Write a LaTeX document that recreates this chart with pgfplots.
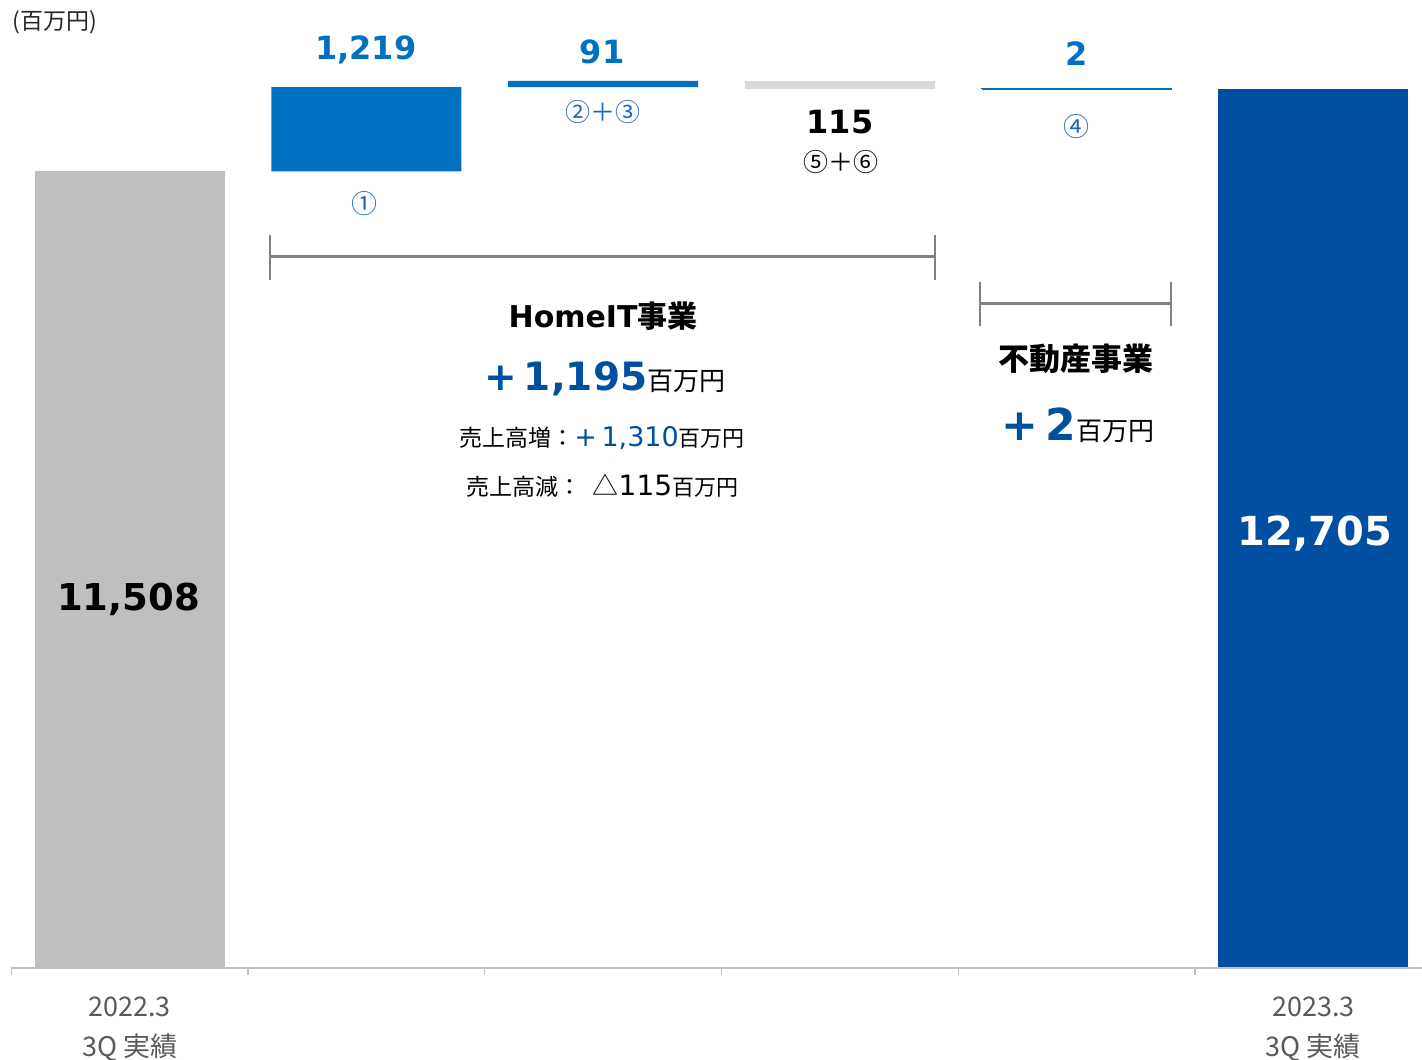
\documentclass[border=0pt]{standalone}
\usepackage{fontspec}
\setmainfont{Noto Sans CJK JP}
\newfontfamily\dv{DejaVu Sans}
\usepackage{pgfplots}
\pgfplotsset{compat=1.18}
\definecolor{startgray}{HTML}{BFBFBF}
\definecolor{blueA}{HTML}{0070C0}
\definecolor{lightbar}{HTML}{D9D9D9}
\definecolor{endblue}{HTML}{004FA2}
\definecolor{circblue}{HTML}{1F64B4}
\definecolor{darkblue}{HTML}{0050A0}
\definecolor{bracketgray}{HTML}{808080}
\definecolor{axisgray}{HTML}{C0C0C0}
\definecolor{tickgray}{HTML}{595959}
\newcommand{\fs}[1]{\fontsize{#1}{#1}\selectfont}
\begin{document}
\begin{tikzpicture}
\begin{axis}[
  scale only axis, width=705.375pt, height=484pt,
  xmin=-0.5, xmax=5.459, ymin=0, ymax=13985,
  ybar stacked, bar width=95pt,
  axis x line=bottom, axis y line=none,
  x axis line style={draw=axisgray, line width=1pt, -},
  xtick={0,5},
  xticklabels={{2022.3\\3Q 実績},{2023.3\\3Q 実績}},
  major tick length=0pt,
  minor xtick={-0.5,0.5,...,4.5},
  minor tick length=3.5pt,
  xtick align=outside,
  minor tick style={draw=axisgray, line width=0.7pt},
  xticklabel style={align=center, font=\fontsize{13.5pt}{20pt}\selectfont, text=tickgray, yshift=-11pt},
  ytick=\empty,
  clip=false,
  axis on top,
]
% invisible base (for bar 4)
\addplot[draw=none, fill=none] coordinates {(0,0)(1,0)(2,0)(3,0)(4,12703)(5,0)};
% bar 4 (+2), drawn as a thin line
\addplot[fill=blueA, draw=blueA, line width=0.7pt] coordinates {(0,0)(1,0)(2,0)(3,0)(4,2)(5,0)};
% invisible base (for bars 1-3)
\addplot[draw=none, fill=none] coordinates {(0,0)(1,11508)(2,12727)(3,12703)(4,0)(5,0)};
% start
\addplot[fill=startgray, draw=none] coordinates {(0,11508)(1,0)(2,0)(3,0)(4,0)(5,0)};
% increases
\addplot[fill=blueA, draw=none] coordinates {(0,0)(1,1219)(2,91)(3,0)(4,0)(5,0)};
% decrease
\addplot[fill=lightbar, draw=none] coordinates {(0,0)(1,0)(2,0)(3,115)(4,0)(5,0)};
% end
\addplot[fill=endblue, draw=none] coordinates {(0,0)(1,0)(2,0)(3,0)(4,0)(5,12705)};

\coordinate (LL) at (rel axis cs:0,0);
\coordinate (L0) at (axis cs:-0.005,5172);
\coordinate (L5) at (axis cs:5.007,6111);

% unit
\node[anchor=base west, inner sep=0pt, font=\fs{11.5pt}, text=black!85] at (axis cs:-0.4967,13565) {(百万円)};

% bar value labels
\node[anchor=base, inner sep=0pt, font=\dv\bfseries\fs{16pt}, text=blueA] at (axis cs:0.998,13118) {1,219};
\node[anchor=base, inner sep=0pt, font=\dv\bfseries\fs{16pt}, text=blueA] at (axis cs:1.996,13074) {91};
\node[anchor=base, inner sep=0pt, font=\dv\bfseries\fs{16pt}, text=black] at (axis cs:3.0,12063) {115};
\node[anchor=base, inner sep=0pt, font=\dv\bfseries\fs{16pt}, text=blueA] at (axis cs:4.0,13045) {2};

% circled markers
\node[inner sep=0pt, font=\fs{13pt}, text=circblue] at (axis cs:0.99,11037) {①};
\node[inner sep=0pt, font=\fs{12.5pt}, text=circblue] at (axis cs:2.0,12366) {②＋③};
\node[inner sep=0pt, font=\fs{12.5pt}, text=black] at (axis cs:3.004,11644) {⑤＋⑥};
\node[inner sep=0pt, font=\fs{13pt}, text=circblue] at (axis cs:4.0,12150) {④};

% brackets
\draw[bracketgray, line width=1.5pt] (axis cs:0.593,10272) -- (axis cs:3.402,10272);
\draw[bracketgray, line width=1.2pt] (axis cs:0.593,10589) -- (axis cs:0.593,9939);
\draw[bracketgray, line width=1.2pt] (axis cs:3.402,10589) -- (axis cs:3.402,9939);
\draw[bracketgray, line width=1.5pt] (axis cs:3.592,9607) -- (axis cs:4.399,9607);
\draw[bracketgray, line width=1.2pt] (axis cs:3.592,9910) -- (axis cs:3.592,9275);
\draw[bracketgray, line width=1.2pt] (axis cs:4.399,9910) -- (axis cs:4.399,9275);

% HomeIT block
\node[anchor=base, inner sep=0pt, text=black] at (axis cs:2.0,9260)
  {{\dv\bfseries\fs{15pt}HomeIT}{\bfseries\fs{15pt}事業}};
\node[anchor=base, inner sep=0pt] at (axis cs:2.008,8350)
  {{\color{darkblue}\dv\bfseries\fs{19.5pt}+\,1,195}{\fs{13pt}百万円}};
\node[anchor=base, inner sep=0pt] at (axis cs:1.996,7527)
  {{\fs{11.5pt}売上高増：}{\color{darkblue}\dv\fs{13.5pt}+\,1,310}{\fs{11pt}百万円}};
\node[anchor=base, inner sep=0pt] at (axis cs:1.996,6833)
  {{\fs{11.5pt}売上高減：\hspace{0.5em}}{\fs{13pt}△}{\dv\fs{14pt}115}{\fs{11pt}百万円}};

% Real estate block
\node[anchor=base, inner sep=0pt, text=black] at (axis cs:3.998,8639)
  {\bfseries\fs{15.5pt}不動産事業};
\node[anchor=base, inner sep=0pt] at (axis cs:4.006,7628)
  {{\color{darkblue}\dv\bfseries\fs{22pt}+\,2}{\fs{13pt}百万円}};
\end{axis}
% labels inside the tall bars, drawn on top of them
\node[anchor=base, inner sep=0pt, font=\dv\bfseries\fs{18.5pt}, text=black] at (L0) {11,508};
\node[anchor=base, inner sep=0pt, font=\dv\bfseries\fs{20pt}, text=white] at (L5) {12,705};
\pgfresetboundingbox
\path (LL) ++(-5.625pt,-45.5pt) rectangle ++(711pt,529.5pt);
\end{tikzpicture}
\end{document}
